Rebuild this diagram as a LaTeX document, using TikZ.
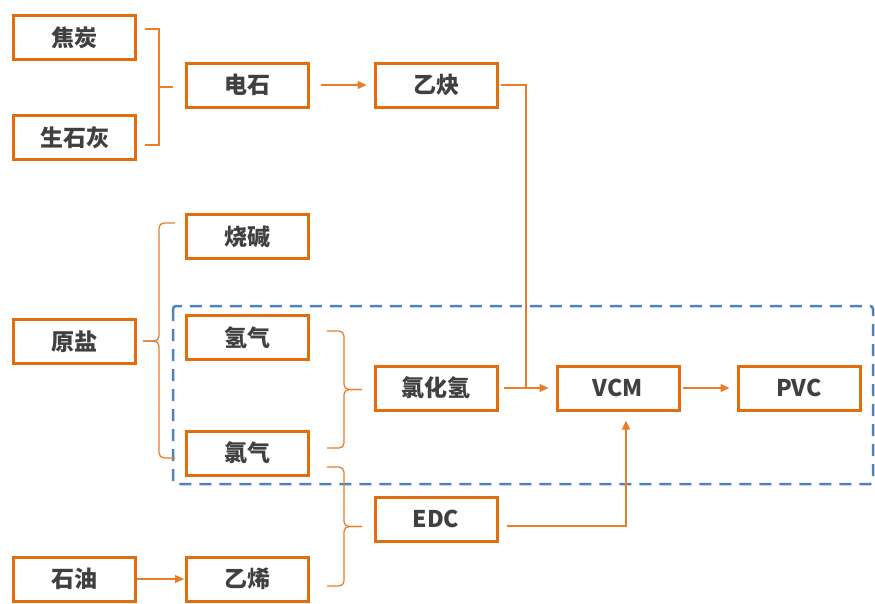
\documentclass[tikz,border=0pt]{standalone}
\usepackage{fontspec}
\setmainfont{Noto Sans CJK SC}
\usepackage{tikz}
\usetikzlibrary{arrows.meta}
\definecolor{boxorange}{RGB}{228,108,10}
\definecolor{lineorange}{RGB}{235,125,40}
\definecolor{dashblue}{RGB}{79,129,189}
\definecolor{txtgray}{RGB}{64,64,64}
\tikzset{proc/.style={draw=boxorange,line width=3pt,minimum width=122pt,minimum height=44pt,
  inner sep=0pt,text=txtgray,font=\fontsize{23}{26}\selectfont\bfseries},
flow/.style={draw=lineorange,line width=1.3pt},
grp/.style={flow,rounded corners=5pt}
}

\begin{document}
\begin{tikzpicture}[x=1pt,y=1pt,>={Triangle[length=9pt,width=8pt]}]
    \useasboundingbox (0,0) rectangle (875,-603);
    \node[proc] (coke)    at (74.5,-37.5)  {焦炭};
    \node[proc] (lime)    at (74.5,-137.5) {生石灰};
    \node[proc] (carbide) at (247,-85)     {电石};
    \node[proc] (acet)    at (436,-85)     {乙炔};
    \node[proc] (soda)    at (247,-236.5)  {烧碱};
    \node[proc] (salt)    at (74.5,-341.5) {原盐};
    \node[proc] (h2)      at (247,-337.5)  {氢气};
    \node[proc] (cl2)     at (247,-453)    {氯气};
    \node[proc] (hcl)     at (436,-388)    {氯化氢};
    \node[proc] (vcm)     at (618,-388)    {VCM};
    \node[proc] (pvc)     at (799,-388)    {PVC};
    \node[proc] (edc)     at (436,-519)    {EDC};
    \node[proc] (oil)     at (74.5,-579)   {石油};
    \node[proc] (eth)     at (247.5,-579)  {乙烯};

    % dashed group
    \draw[dashblue,line width=2.5pt,dash pattern=on 12pt off 8pt,rounded corners=3pt]
        (173,-306) rectangle (873,-484);

    % brackets
    \coordinate (b1t) at (145,-29);
    \coordinate (b1b) at (145,-145);
    \coordinate (b1m) at (159,-87);
    \draw[flow] (b1t) -| (b1m) |- (b1b) (b1m) -- ++(14,0);
    \coordinate (b2m) at (143,-341);
    \draw[grp] (175,-223) -| (159,-341) -- (b2m);
    \draw[grp] (175,-458) -| (159,-341) -- (b2m);
    \coordinate (b3m) at (362,-389.5);
    \draw[grp] (327,-331) -| (344,-389.5) -- (b3m);
    \draw[grp] (327,-448) -| (344,-389.5) -- (b3m);
    \coordinate (b4m) at (362,-526.5);
    \draw[grp] (327,-467) -| (344,-526.5) -- (b4m);
    \draw[grp] (327,-586) -| (344,-526.5) -- (b4m);

    % flows
    \coordinate (jn) at (526,-388);
    \draw[flow,->] ([xshift=11pt]carbide.east) -- ([xshift=-7pt]acet.west);
    \draw[flow] ([xshift=2pt]acet.east) -| (jn);
    \draw[flow,->] ([xshift=5pt]hcl.east) -- ([xshift=-7pt]vcm.west);
    \draw[flow,->] ([shift={(8pt,-7pt)}]edc.east) -| ([shift={(8pt,-9pt)}]vcm.south);
    \draw[flow,->] ([xshift=2pt]vcm.east) -- ([xshift=-7pt]pvc.west);
    \draw[flow,->] (oil.east) -- ([xshift=-1pt]eth.west);
\end{tikzpicture}
\end{document}
